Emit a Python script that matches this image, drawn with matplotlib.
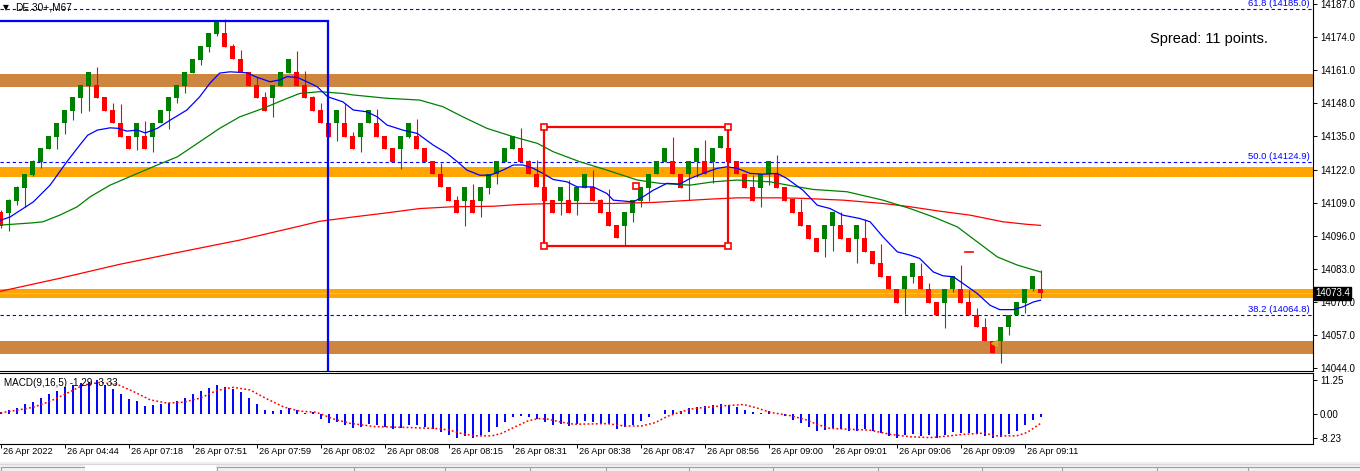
import numpy as np
import matplotlib
matplotlib.use("Agg")
from matplotlib import pyplot as plt
from matplotlib import transforms as mtrans
from matplotlib.patches import Rectangle

plt.rcParams['font.family'] = ['Liberation Sans', 'DejaVu Sans']

# ---- candles (range bars) ----
opens = [
    14105.3, 14104.9, 14109.6, 14114.7, 14119.8, 14124.9, 14130.0, 14134.8, 14140.3, 14145.0,
    14150.1, 14154.8, 14155.2, 14150.5, 14145.4, 14140.3, 14135.2, 14134.8, 14135.2, 14134.8,
    14140.3, 14145.0, 14150.1, 14154.8, 14159.9, 14165.0, 14170.1, 14175.2, 14175.6, 14170.5,
    14165.4, 14160.3, 14155.2, 14150.5, 14150.1, 14154.8, 14159.9, 14160.3, 14155.2, 14150.5,
    14145.4, 14140.3, 14140.3, 14140.3, 14135.2, 14134.8, 14140.3, 14140.3, 14135.2, 14130.4,
    14130.0, 14134.8, 14135.2, 14130.4, 14125.3, 14120.2, 14115.1, 14110.0, 14109.6, 14110.0,
    14109.6, 14114.7, 14120.2, 14124.9, 14130.0, 14130.4, 14125.3, 14120.2, 14115.1, 14110.0,
    14109.6, 14110.0, 14109.6, 14114.7, 14115.1, 14110.0, 14105.3, 14100.2, 14099.8, 14104.9,
    14109.6, 14114.7, 14120.2, 14124.9, 14125.3, 14120.2, 14120.2, 14124.9, 14125.3, 14124.9,
    14130.4, 14130.4, 14125.3, 14120.2, 14115.1, 14114.7, 14120.2, 14120.2, 14115.1, 14110.4,
    14105.3, 14100.2, 14095.1, 14094.7, 14099.8, 14100.2, 14095.1, 14094.7, 14095.1, 14090.0,
    14085.2, 14080.1, 14075.0, 14075.0, 14079.7, 14080.1, 14075.0, 14069.9, 14069.5, 14075.0,
    14075.0, 14069.9, 14064.8, 14060.1, 14054.6, 14054.6, 14060.1, 14064.8, 14069.5, 14075.0,
    14075.0]
closes = [
    14099.8, 14110.0, 14115.1, 14120.2, 14125.3, 14130.4, 14135.2, 14140.3, 14145.4, 14150.5,
    14155.2, 14160.3, 14150.1, 14145.0, 14140.3, 14134.8, 14130.0, 14140.3, 14130.0, 14140.3,
    14145.4, 14150.5, 14155.2, 14160.3, 14165.4, 14170.5, 14175.6, 14180.0, 14170.1, 14165.4,
    14160.3, 14154.8, 14150.1, 14145.0, 14155.2, 14160.3, 14165.4, 14154.8, 14150.1, 14145.0,
    14140.3, 14134.8, 14145.4, 14134.8, 14130.0, 14140.3, 14145.4, 14134.8, 14130.0, 14124.9,
    14135.2, 14140.3, 14130.0, 14124.9, 14120.2, 14115.1, 14109.6, 14104.9, 14115.1, 14104.9,
    14115.1, 14120.2, 14125.3, 14130.4, 14135.2, 14124.9, 14120.2, 14115.1, 14109.6, 14104.9,
    14115.1, 14104.9, 14115.1, 14120.2, 14109.6, 14104.9, 14099.8, 14095.1, 14105.3, 14110.0,
    14115.1, 14120.2, 14125.3, 14130.4, 14120.2, 14114.7, 14125.3, 14130.4, 14120.2, 14130.4,
    14135.2, 14124.9, 14120.2, 14114.7, 14109.6, 14120.2, 14125.3, 14114.7, 14109.6, 14104.9,
    14099.8, 14094.7, 14089.6, 14100.2, 14105.3, 14094.7, 14089.6, 14100.2, 14089.6, 14084.8,
    14079.7, 14075.0, 14069.5, 14080.1, 14085.2, 14075.0, 14069.5, 14064.8, 14075.0, 14080.1,
    14069.5, 14064.8, 14060.1, 14054.6, 14049.9, 14060.1, 14064.8, 14069.9, 14075.0, 14080.1,
    14073.4]
highs = [
    14106.1, 14110.4, 14115.5, 14120.2, 14125.7, 14130.4, 14135.2, 14140.3, 14145.4, 14150.5,
    14155.2, 14160.3, 14162.3, 14150.5, 14148.1, 14147.7, 14135.2, 14140.3, 14141.0, 14140.3,
    14145.4, 14150.5, 14155.2, 14160.3, 14165.4, 14170.5, 14175.6, 14180.7, 14181.1, 14171.3,
    14168.9, 14160.3, 14158.3, 14152.4, 14155.2, 14160.3, 14165.4, 14168.6, 14160.7, 14150.9,
    14148.1, 14140.3, 14145.4, 14148.1, 14136.7, 14140.3, 14145.4, 14145.8, 14135.2, 14130.4,
    14135.2, 14140.3, 14141.8, 14130.4, 14125.3, 14124.5, 14115.1, 14111.6, 14115.1, 14116.3,
    14115.1, 14120.2, 14125.3, 14130.4, 14135.2, 14138.3, 14125.7, 14125.7, 14115.1, 14110.0,
    14115.1, 14117.9, 14115.1, 14120.2, 14121.8, 14110.4, 14114.3, 14100.2, 14105.3, 14110.0,
    14115.1, 14120.2, 14125.3, 14130.4, 14134.8, 14120.2, 14125.3, 14130.4, 14133.6, 14130.4,
    14135.2, 14130.4, 14125.3, 14120.2, 14119.8, 14120.2, 14125.3, 14127.7, 14115.1, 14110.4,
    14110.4, 14100.2, 14095.1, 14100.2, 14105.3, 14105.3, 14095.1, 14100.2, 14102.5, 14090.0,
    14092.7, 14080.1, 14075.0, 14080.1, 14085.2, 14085.2, 14077.4, 14069.9, 14075.0, 14080.1,
    14084.5, 14074.6, 14067.6, 14063.6, 14054.6, 14060.1, 14064.8, 14069.9, 14075.0, 14080.1,
    14082.5]
lows = [
    14099.0, 14097.8, 14108.0, 14107.2, 14119.4, 14122.6, 14130.0, 14130.0, 14135.9, 14141.4,
    14144.2, 14145.0, 14150.1, 14145.0, 14140.3, 14134.8, 14130.0, 14129.6, 14130.0, 14128.9,
    14140.3, 14137.9, 14148.1, 14152.0, 14159.9, 14163.1, 14168.2, 14174.5, 14170.1, 14165.4,
    14160.3, 14154.8, 14150.1, 14145.0, 14142.6, 14154.8, 14159.9, 14154.8, 14150.1, 14145.0,
    14140.3, 14134.8, 14133.2, 14134.8, 14130.0, 14128.9, 14140.3, 14134.8, 14130.0, 14124.9,
    14122.2, 14134.4, 14130.0, 14124.9, 14120.2, 14115.1, 14109.6, 14104.9, 14099.8, 14104.9,
    14103.3, 14112.4, 14116.3, 14124.9, 14130.0, 14124.9, 14120.2, 14115.1, 14109.6, 14104.9,
    14104.1, 14104.9, 14104.1, 14114.7, 14109.6, 14104.9, 14099.8, 14095.1, 14092.3, 14101.4,
    14107.2, 14109.6, 14120.2, 14124.9, 14120.2, 14114.7, 14110.0, 14119.0, 14120.2, 14116.7,
    14130.4, 14124.9, 14120.2, 14114.7, 14109.6, 14107.2, 14115.9, 14114.7, 14109.6, 14104.9,
    14099.8, 14094.7, 14089.6, 14087.6, 14090.0, 14094.7, 14089.6, 14085.2, 14089.6, 14084.8,
    14079.7, 14075.0, 14069.5, 14065.2, 14077.4, 14075.0, 14069.5, 14064.8, 14059.7, 14073.8,
    14069.5, 14064.8, 14060.1, 14054.6, 14049.9, 14045.9, 14056.9, 14064.8, 14065.6, 14074.2,
    14071.5]

# moving averages (bar position, price)
ma_fast_x = [0, 1.2, 4.1, 6.2, 8.3, 9.9, 10.9, 12.1, 13.7, 14.7, 15.8, 17.1, 18.1, 19.6, 21.2,
             23.3, 24.9, 26.2, 27.4, 28.7, 30.8, 32.1, 33.7, 34.9, 35.8, 37.1, 38.3, 39.6, 40.9,
             42.8, 44.1, 45.8, 47.1, 48.3, 50.3, 52.1, 54.1, 55.8, 57.1, 58.3, 59.9, 61.2, 62.8,
             64.1, 65.3, 66.6, 67.8, 69.1, 70.8, 72.1, 74.1, 75.8, 76.6, 79.1, 80.3, 81.6, 83.3,
             84.9, 86.2, 87.8, 89.6, 90.8, 92.1, 93.7, 95.3, 97.1, 98.3, 100.3, 102.1, 103.7,
             105.3, 107.4, 108.7, 110.3, 112.1, 113.7, 114.9, 116.6, 117.8, 119.1, 120.3, 122.1,
             123.7, 124.9, 126.6, 127.8, 129.1, 130.0]
ma_fast_y = [14102.1, 14103.4, 14109.3, 14115.9, 14125.1, 14131.6, 14135.5, 14137.5, 14138.4,
             14138.2, 14137.1, 14137.5, 14136.4, 14138.2, 14141.4, 14145.4, 14150.6, 14156.0,
             14159.9, 14160.4, 14160.0, 14158.2, 14156.5, 14157.2, 14158.5, 14158.2, 14156.5,
             14154.5, 14150.6, 14148.6, 14145.4, 14144.7, 14142.7, 14139.5, 14137.5, 14136.2,
             14131.6, 14128.4, 14125.1, 14121.8, 14119.8, 14119.8, 14121.8, 14123.8, 14123.8,
             14122.5, 14120.5, 14118.1, 14117.2, 14115.2, 14115.2, 14112.6, 14110.0, 14109.3,
             14111.3, 14113.9, 14116.6, 14116.3, 14118.5, 14120.5, 14122.5, 14123.1, 14122.5,
             14120.5, 14120.2, 14120.5, 14118.5, 14113.9, 14108.0, 14106.7, 14104.1, 14102.8,
             14101.5, 14095.6, 14089.7, 14088.4, 14087.1, 14081.8, 14080.3, 14079.9, 14077.3,
             14073.3, 14068.7, 14067.0, 14067.0, 14068.1, 14070.0, 14070.7]
ma_mid_x = [0, 4.1, 5.3, 7.4, 9.6, 11.2, 13.7, 16.6, 19.6, 22.1, 24.9, 27.4, 29.9, 32.8, 35.3,
            37.4, 39.9, 42.8, 44.1, 48.3, 52.4, 55.3, 57.8, 60.8, 64.1, 67.1, 69.1, 72.4, 75.8,
            79.6, 82.4, 86.2, 89.1, 92.1, 96.2, 99.1, 101.6, 105.8, 110.3, 113.7, 116.6, 119.6,
            122.1, 124.6, 127.1, 130.0]
ma_mid_y = [14100.2, 14101.1, 14101.5, 14104.1, 14107.4, 14111.3, 14115.9, 14119.8, 14123.8,
            14127.0, 14132.9, 14138.2, 14142.7, 14146.0, 14149.3, 14151.9, 14152.6, 14151.9,
            14151.3, 14150.0, 14149.3, 14146.7, 14142.7, 14138.2, 14134.9, 14132.3, 14129.0,
            14125.1, 14121.8, 14117.9, 14116.6, 14115.9, 14117.2, 14117.9, 14117.2, 14115.5,
            14114.2, 14113.3, 14110.0, 14106.7, 14103.4, 14099.5, 14093.6, 14087.7, 14084.5,
            14081.8]
ma_slow_x = [0, 7.4, 14.9, 22.4, 29.9, 37.4, 39.9, 44.1, 48.3, 52.4, 56.6, 61.6, 64.9, 69.1,
             76.6, 81.6, 84.9, 88.7, 92.1, 97.4, 100.3, 105.3, 110.3, 113.7, 117.1, 121.2,
             125.3, 128.3, 130.0]
ma_slow_y = [14074.2, 14079.3, 14084.8, 14089.6, 14094.3, 14099.8, 14101.7, 14103.4, 14105.0,
             14106.7, 14107.4, 14107.6, 14108.3, 14108.7, 14108.7, 14109.1, 14109.7, 14110.4,
             14110.9, 14110.9, 14110.7, 14110.0, 14108.7, 14107.4, 14105.8, 14104.1, 14101.5,
             14100.5, 14100.1]

# MACD(9,16,5)
macd_hist = [
    0.4, 1.1, 1.9, 3.1, 4.0, 5.2, 6.6, 7.7, 8.8, 9.6,
    10.2, 10.6, 11.25, 9.6, 8.3, 6.6, 4.9, 4.2, 2.6, 2.9,
    3.1, 3.5, 4.3, 5.3, 6.4, 7.4, 8.5, 9.6, 8.8, 8.2,
    7.1, 5.1, 3.1, 1.3, 1.0, 1.1, 1.9, 1.3, 0.2, 0.5,
    -2.0, -3.1, -3.0, -3.9, -4.7, -4.4, -3.6, -3.9, -4.4, -5.1,
    -4.7, -3.9, -3.9, -4.4, -5.1, -6.2, -7.2, -8.1, -7.5, -8.2,
    -7.3, -6.1, -4.4, -2.8, -1.2, -0.9, -1.2, -1.7, -2.9, -3.9,
    -3.6, -4.2, -3.6, -2.5, -2.9, -3.4, -3.6, -5.1, -4.4, -4.0,
    -2.5, -1.2, -0.3, 1.3, 1.3, 1.0, 1.7, 2.2, 2.4, 2.8,
    3.3, 2.9, 2.2, 1.1, 0.4, 0.2, 0.7, -0.2, -0.9, -2.2,
    -3.3, -4.4, -5.8, -5.5, -4.7, -5.3, -5.8, -5.8, -5.3, -6.0,
    -6.6, -7.7, -8.23, -7.2, -7.0, -7.5, -7.2, -8.1, -7.3, -6.2,
    -6.7, -6.4, -7.0, -7.7, -8.1, -7.8, -7.0, -5.8, -4.0, -2.3,
    -1.29]
signal_x = [0, 2.0, 4.1, 6.2, 8.3, 10.4, 12.4, 14.5, 16.6, 18.7, 20.8, 22.9, 25.0, 27.0, 29.1,
            31.2, 33.3, 35.4, 37.4, 39.5, 41.6, 43.7, 46.8, 51.0, 54.3, 56.0, 57.6, 59.3, 61.4,
            62.6, 64.3, 65.9, 67.2, 68.4, 70.1, 71.7, 75.9, 78.0, 80.1, 81.8, 83.4, 85.1, 86.7,
            90.4, 92.9, 94.5, 96.2, 98.7, 100.8, 102.0, 103.7, 106.2, 108.7, 111.2, 113.7,
            116.2, 118.7, 120.4, 122.9, 124.5, 127.0, 128.3, 130.0]
signal_y = [0.2, 1.1, 2.1, 4.1, 6.8, 9.6, 10.4, 9.9, 7.4, 4.6, 3.5, 3.8, 5.2, 7.7, 8.8,
            7.9, 4.9, 2.2, 0.8, 0.4, -1.8, -3.3, -4.4, -4.7, -5.0, -5.5, -6.7, -7.5, -7.5,
            -6.7, -4.5, -2.5, -1.7, -1.9, -2.9, -3.6, -3.4, -4.2, -4.2, -3.1, -0.9, 0.6, 1.7,
            2.6, 3.0, 1.9, 0.4, -0.7, -2.2, -3.6, -5.0, -5.3, -5.6, -7.0, -7.8,
            -8.1, -7.5, -7.0, -6.6, -7.5, -7.5, -6.4, -3.33]

price_ticks = [14187.0, 14174.0, 14161.0, 14148.0, 14135.0, 14122.0, 14109.0, 14096.0,
               14083.0, 14070.0, 14057.0, 14044.0]
macd_ticks = [11.25, 0.00, -8.23]
time_labels = ["26 Apr 2022", "26 Apr 04:44", "26 Apr 07:18", "26 Apr 07:51", "26 Apr 07:59",
               "26 Apr 08:02", "26 Apr 08:08", "26 Apr 08:15", "26 Apr 08:31", "26 Apr 08:38",
               "26 Apr 08:47", "26 Apr 08:56", "26 Apr 09:00", "26 Apr 09:01", "26 Apr 09:06",
               "26 Apr 09:09", "26 Apr 09:11"]

# support / resistance zones (low, high, colour)
zones = [(14154.3, 14159.5, '#cd853f'), (14119.1, 14123.1, '#ffa500'),
         (14071.6, 14075.1, '#ffa500'), (14049.4, 14054.7, '#cd853f')]
fib_levels = [(14185.0, "61.8 (14185.0)"), (14124.9, "50.0 (14124.9)"), (14064.8, "38.2 (14064.8)")]
last_price = 14073.4

W, H = 1360, 471
fig = plt.figure(figsize=(W / 100, H / 100), dpi=100)


def px_box(x0, y0, x1, y1):
    return [x0 / W, 1 - y1 / H, (x1 - x0) / W, (y1 - y0) / H]


ax = fig.add_axes(px_box(0, 0, 1313, 371))
ax2 = fig.add_axes(px_box(0, 373, 1313, 444))
xlim = (-0.0625, 164.06)

# ---- main price panel ----
for lo, hi, col in zones:
    ax.axhspan(lo, hi, color=col, lw=0, zorder=0.5)
ax.axhline(last_price, color='#c0c0c0', lw=0.8, zorder=0.6)

btr = mtrans.blended_transform_factory(ax.transAxes, ax.transData)
for val, lab in fib_levels:
    ax.axhline(val, color='#0000ff', lw=0.8, ls=(0, (3, 2.5)), zorder=1)
    ax.text(1310 / 1313, val + 0.4, lab, transform=btr, ha='right', va='bottom',
            color='#0000ff', fontsize=6.8)

o = np.array(opens)
c = np.array(closes)
idx = np.arange(len(o))
cols = np.where(c >= o, '#008000', '#ff0000')
ax.vlines(idx, lows, highs, colors=cols, lw=0.8, zorder=3)
ax.bar(idx, np.abs(c - o), bottom=np.minimum(o, c), width=0.65, color=cols, lw=0, zorder=3)

ax.plot(ma_slow_x, ma_slow_y, color='#ff0000', lw=0.9, zorder=4)
ax.plot(ma_mid_x, ma_mid_y, color='#008000', lw=0.9, zorder=4)
ax.plot(ma_fast_x, ma_fast_y, color='#0000ff', lw=0.9, zorder=4)

# blue box on the left (left edge off screen)
ax.add_patch(Rectangle((-5, 14000), 45.9, 14180.2 - 14000, fill=False,
                       edgecolor='#0000ff', lw=1.6, zorder=5))
# red box with selection handles
rx0, rx1, ry0, ry1 = 67.9, 90.9, 14092.0, 14138.8
ax.add_patch(Rectangle((rx0, ry0), rx1 - rx0, ry1 - ry0, fill=False,
                       edgecolor='#ff0000', lw=1.6, zorder=5))
ax.plot([rx0, rx1, rx0, rx1, (rx0 + rx1) / 2], [ry1, ry1, ry0, ry0, (ry0 + ry1) / 2],
        ls='none', marker='s', ms=4, mfc='white', mec='#ff0000', mew=1.2, zorder=6)

# small trade marks
ax.plot([120.5, 121.6], [14089.6, 14089.6], color='#ff0000', lw=1.2, zorder=6)
ax.plot([124.2], [14053.8], marker='<', ms=5, color='#daa520', zorder=6)

ax.set_xlim(*xlim)
ax.set_ylim(14042.9, 14188.6)
ax.yaxis.tick_right()
ax.set_yticks(price_ticks)
ax.set_yticklabels([f"{v:.1f}" for v in price_ticks])
ax.tick_params(axis='y', labelsize=7, length=3, width=0.7, pad=2)
ax.set_xticks([])
for s in ['left', 'top']:
    ax.spines[s].set_visible(False)
for s in ['right', 'bottom']:
    ax.spines[s].set_linewidth(0.8)

ax.text(1315 / 1313, last_price, f"{last_price:.1f}", transform=btr,
        ha='left', va='center', color='white', fontsize=7, clip_on=False,
        bbox=dict(boxstyle='square,pad=0.15', fc='black', ec='black'))

ax.text(3 / 1313, 1 - 7.5 / 371, "▼", transform=ax.transAxes, fontsize=5.5, va='center',
        ha='left', family=['DejaVu Sans'])
ax.text(15 / 1313, 1 - 7.5 / 371, "DE.30+,M67", transform=ax.transAxes, fontsize=7.3,
        va='center', ha='left')
ax.text(1150 / 1313, 1 - 39 / 371, "Spread: 11 points.", transform=ax.transAxes,
        fontsize=10.5, va='center', ha='left')

# ---- MACD panel ----
ax2.vlines(idx, 0, macd_hist, colors='#0000ff', lw=1.4)
ax2.plot(signal_x, signal_y, color='#ff0000', lw=1.1, ls=(0, (1.2, 1.5)))
ax2.set_xlim(*xlim)
ax2.set_ylim(-10.24, 13.6)
ax2.yaxis.tick_right()
ax2.set_yticks(macd_ticks)
ax2.set_yticklabels([f"{v:.2f}" for v in macd_ticks])
ax2.tick_params(axis='y', labelsize=7, length=3, width=0.7, pad=2)
tick_pos = [8 * j for j in range(len(time_labels))]
ax2.set_xticks(tick_pos)
ax2.tick_params(axis='x', length=3, width=0.7, labelbottom=False)
ax2.spines['left'].set_visible(False)
for s in ['right', 'bottom', 'top']:
    ax2.spines[s].set_linewidth(0.8)
ax2.text(4 / 1313, 1 - 10 / 71, "MACD(9,16,5) -1.29 -3.33", transform=ax2.transAxes,
         fontsize=7.1, va='center', ha='left')

ttr = mtrans.blended_transform_factory(ax2.transData, ax2.transAxes)
for p, lab in zip(tick_pos, time_labels):
    ax2.text(p + 0.3, -8 / 71, lab, transform=ttr, fontsize=6.6, va='center', ha='left')

# ---- tab bar at the bottom ----
ax3 = fig.add_axes(px_box(0, 462, 1360, 471))
ax3.set_xlim(0, 1360)
ax3.set_ylim(471, 462)
ax3.axis('off')
ax3.add_patch(Rectangle((0, 462), 1360, 9, color='#f0f0f0', lw=0))
ax3.plot([0, 1360], [463.5, 463.5], color='#d8d8d8', lw=0.8)
ax3.add_patch(Rectangle((0.5, 467), 84, 5, fill=False, ec='#a0a0a0', lw=0.8))
ax3.add_patch(Rectangle((85, 465), 131, 7, color='white', lw=0))
ax3.plot([217, 1360], [467, 467], color='#a0a0a0', lw=0.8)
for sx in [217, 354, 445, 530, 606, 689, 773, 878, 982, 1062, 1157, 1248]:
    ax3.plot([sx, sx], [467, 471], color='#a0a0a0', lw=0.8)

fig.savefig("out.png", dpi=100)
